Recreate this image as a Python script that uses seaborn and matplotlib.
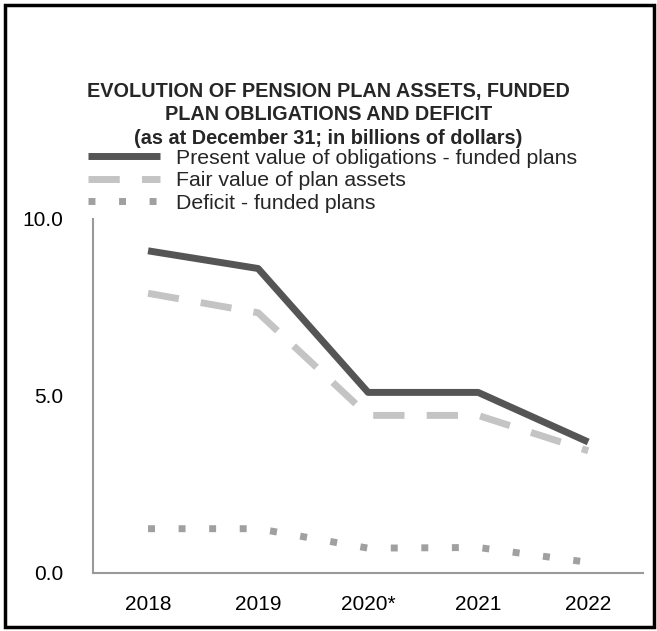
import matplotlib
matplotlib.use("Agg")
import matplotlib.pyplot as plt
from matplotlib.patches import Rectangle
import seaborn as sns
import pandas as pd

years = ["2018", "2019", "2020*", "2021", "2022"]
obligations = [9.1, 8.6, 5.1, 5.1, 3.7]
plan_assets = [7.9, 7.35, 4.45, 4.45, 3.45]
deficit = [1.25, 1.25, 0.7, 0.72, 0.3]

series_names = [
    "Present value of obligations - funded plans",
    "Fair value of plan assets",
    "Deficit - funded plans",
]

sns.set_theme(style="white")
plt.rcParams["font.family"] = ["Liberation Sans", "DejaVu Sans"]

df = pd.DataFrame({
    "year": years * 3,
    "value": obligations + plan_assets + deficit,
    "series": [series_names[0]] * 5 + [series_names[1]] * 5 + [series_names[2]] * 5,
})

fig = plt.figure(figsize=(6.57, 6.31), dpi=100)
ax = fig.add_axes([0.1416, 0.092, 0.8374, 0.561])

styles = {
    series_names[0]: dict(color="#555555", dashes=None),
    series_names[1]: dict(color="#c4c4c4", dashes=(4.5, 3.2)),
    series_names[2]: dict(color="#a0a0a0", dashes=(1.0, 3.4)),
}

for name in series_names:
    sub = df[df["series"] == name]
    st = styles[name]
    sns.lineplot(data=sub, x="year", y="value", ax=ax, color=st["color"],
                 linewidth=5, label=name, sort=False)
    line = ax.get_lines()[-1]
    line.set_solid_capstyle("butt")
    line.set_dash_capstyle("butt")
    if st["dashes"] is not None:
        line.set_dashes(st["dashes"])

ax.set_xlim(-0.5, 4.5)
ax.set_ylim(0, 10)
ax.set_yticks([0, 5, 10])
ax.set_yticklabels(["0.0", "5.0", "10.0"])
ax.set_xlabel("")
ax.set_ylabel("")
ax.tick_params(axis="both", length=0, labelsize=15, colors="black")
ax.tick_params(axis="y", pad=21.5)
ax.tick_params(axis="x", pad=16)
for side in ["top", "right"]:
    ax.spines[side].set_visible(False)
for side in ["left", "bottom"]:
    ax.spines[side].set_color("#999999")
    ax.spines[side].set_linewidth(1.5)

handles, labels = ax.get_legend_handles_labels()
ax.legend_.remove()
fig.legend(handles, labels, loc="upper left", bbox_to_anchor=(0.134, 0.764),
           frameon=False, fontsize=15.3, handlelength=3.4, handletextpad=0.72,
           labelspacing=0.16, borderpad=0, borderaxespad=0)

fig.text(0.5, 0.818, "EVOLUTION OF PENSION PLAN ASSETS, FUNDED\nPLAN OBLIGATIONS AND DEFICIT\n(as at December 31; in billions of dollars)",
         ha="center", va="center", fontsize=14.3, fontweight="bold",
         linespacing=1.28)

fig.patches.append(Rectangle((0.0076, 0.0063), 0.9878, 0.9857, transform=fig.transFigure,
                             fill=False, edgecolor="black", linewidth=2.5))

fig.savefig("out.png", dpi=100)
